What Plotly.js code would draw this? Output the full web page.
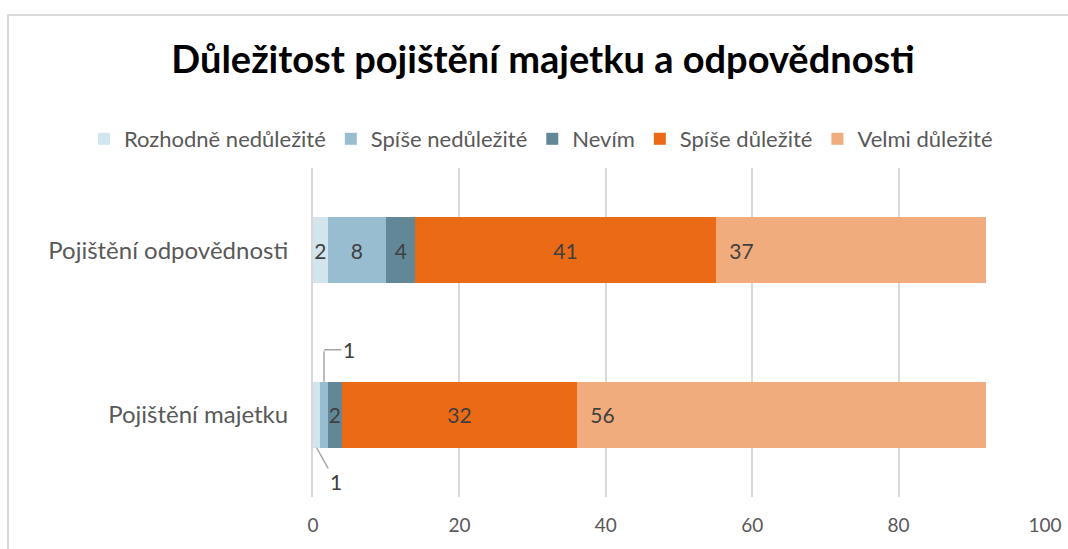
<!DOCTYPE html>
<html>
<head>
<meta charset="utf-8">
<script src="https://cdn.plot.ly/plotly-3.0.1.min.js"></script>
<style>
  html, body { margin: 0; padding: 0; background: #fff; overflow: hidden; }
  #wrap { position: relative; width: 1068px; height: 549px; }
  #chart { width: 1068px; height: 549px; }
  #frame { position: absolute; left: 7px; top: 14px; width: 2000px; height: 2000px;
           border: 2px solid #D9D9D9; pointer-events: none; }
</style>
</head>
<body>
<div id="wrap">
  <div id="chart"></div>
  <div id="frame"></div>
</div>
<script>
const categories = ['Pojištění majetku', 'Pojištění odpovědnosti'];
const seriesNames = ['Rozhodně nedůležité', 'Spíše nedůležité', 'Nevím', 'Spíše důležité', 'Velmi důležité'];
const rozhodneNedulezite = [1, 2];
const spiseNedulezite = [1, 8];
const nevim = [2, 4];
const spiseDulezite = [32, 41];
const velmiDulezite = [56, 37];
const xTicks = [0, 20, 40, 60, 80, 100];
const colors = ['#D2E5EC', '#98BDD0', '#628898', '#EA6A15', '#F0AC7D'];

const allSeries = [rozhodneNedulezite, spiseNedulezite, nevim, spiseDulezite, velmiDulezite];
const FONT = 'Lato, "Open Sans", sans-serif';

const traces = allSeries.map((vals, i) => {
  const isLast = i === allSeries.length - 1;
  return {
    type: 'bar',
    orientation: 'h',
    name: seriesNames[i],
    y: categories,
    x: vals,
    marker: { color: colors[i], line: { width: 0 } },
    text: vals.map(v => v > 1 ? (isLast ? '\u00a0\u00a0' + v : String(v)) : ''),
    textposition: 'inside',
    insidetextanchor: isLast ? 'start' : 'middle',
    constraintext: 'none',
    textfont: { family: FONT, size: 21, color: '#404040' },
    hoverinfo: 'x+name'
  };
});

// cumulative midpoints for small-segment callouts (bottom bar)
const cat0 = categories[0];
const mid0 = rozhodneNedulezite[0] / 2;
const mid1 = rozhodneNedulezite[0] + spiseNedulezite[0] / 2;

const leader = { showarrow: true, arrowhead: 0, arrowwidth: 1.5, arrowcolor: '#A6A6A6' };
const annFont = { family: FONT, size: 21, color: '#404040' };

const annotations = [
  Object.assign({ x: mid1, y: cat0, xref: 'x', yref: 'y', yshift: 33, ax: 0, ay: -32, text: '', font: annFont }, leader),
  Object.assign({ x: mid1, y: cat0, xref: 'x', yref: 'y', yshift: 65, ax: 25, ay: 0, text: String(spiseNedulezite[0]), font: annFont }, leader),
  Object.assign({ x: mid0, y: cat0, xref: 'x', yref: 'y', yshift: -33, ax: 19, ay: 34, text: String(rozhodneNedulezite[0]), font: annFont }, leader)
];

const L = 313, R = 23, T = 168, B = 52, W = 1068, H = 549;
const plotW = W - L - R, plotH = H - T - B;

const layout = {
  width: W,
  height: H,
  margin: { l: L, r: R, t: T, b: B },
  paper_bgcolor: '#ffffff',
  plot_bgcolor: '#ffffff',
  barmode: 'stack',
  bargap: 0.6,
  showlegend: true,
  title: {
    text: '<b>Důležitost pojištění majetku a odpovědnosti</b>',
    font: { family: FONT, size: 38, color: '#000000' },
    x: 543 / W, xref: 'container', xanchor: 'center',
    y: 1 - 60 / H, yref: 'container', yanchor: 'middle'
  },
  legend: {
    orientation: 'h',
    x: (84 - L) / plotW, xref: 'paper', xanchor: 'left',
    y: (H - B - 139) / plotH, yref: 'paper', yanchor: 'middle',
    font: { family: FONT, size: 22, color: '#595959' },
    itemwidth: 30,
    traceorder: 'normal'
  },
  xaxis: {
    range: [0, 100],
    tickvals: xTicks,
    ticktext: xTicks.map(String),
    showgrid: true,
    gridcolor: '#D9D9D9',
    gridwidth: 2,
    zeroline: false,
    showline: false,
    ticks: '',
    ticklabelstandoff: 15,
    tickfont: { family: FONT, size: 19, color: '#595959' },
    fixedrange: true
  },
  yaxis: {
    type: 'category',
    categoryorder: 'array',
    categoryarray: categories,
    showgrid: false,
    zeroline: false,
    showline: true,
    linecolor: '#D9D9D9',
    linewidth: 2,
    ticks: '',
    ticklabelstandoff: 18,
    tickfont: { family: FONT, size: 24, color: '#595959' },
    fixedrange: true
  },
  annotations: annotations
};

Plotly.newPlot('chart', traces, layout, { displayModeBar: false, staticPlot: true });
</script>
</body>
</html>
